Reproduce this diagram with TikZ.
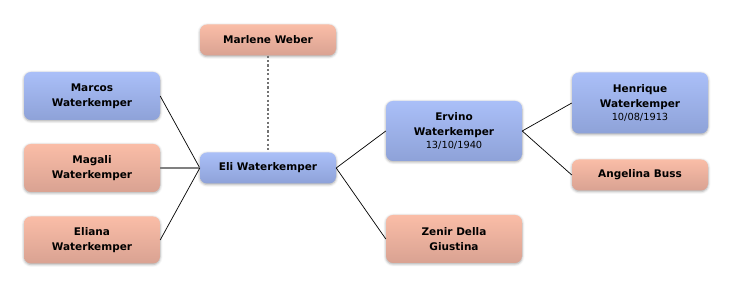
\documentclass[tikz,border=0pt]{standalone}
\usepackage{fontspec}
\setmainfont{DejaVu Sans}
\usetikzlibrary{shadows.blur}
\definecolor{bluetop}{HTML}{AABFF8}
\definecolor{bluebot}{HTML}{8EA2D8}
\definecolor{saltop}{HTML}{FABDA7}
\definecolor{salbot}{HTML}{D9A292}
\tikzset{
  person/.style={rounded corners=7pt, minimum width=136pt, inner sep=0pt, align=center,
    font=\bfseries\fontsize{10.5}{15}\selectfont,
    blur shadow={shadow xshift=0pt, shadow yshift=-1pt, shadow blur radius=2.5pt, shadow opacity=35}},
  male/.style={person, top color=bluetop, bottom color=bluebot},
  female/.style={person, top color=saltop, bottom color=salbot},
  link/.style={draw=black, line width=0.7pt},
  wed/.style={draw=black!50, line width=1.8pt},
  spouse/.style={draw=black!55, line width=1.6pt, dash pattern=on 2.2pt off 2.2pt}
}
\newcommand{\dt}[1]{{\mdseries\fontsize{9.8}{12}\selectfont #1}}
\begin{document}
\begin{tikzpicture}[x=1pt,y=1pt]
\useasboundingbox (0,0) rectangle (732,288);
\node[female, minimum height=31pt] (marlene) at (268,248) {Marlene Weber};
\node[male, minimum height=48pt] (marcos) at (92,192) {Marcos\\Waterkemper};
\node[female, minimum height=48pt] (magali) at (92,120) {Magali\\Waterkemper};
\node[female, minimum height=47pt] (eliana) at (92,48) {Eliana\\Waterkemper};
\node[male, minimum height=31pt] (eli) at (268,120) {Eli Waterkemper};
\node[male, minimum height=60pt] (ervino) at (454,157) {Ervino\\Waterkemper\\[-2pt]\dt{13/10/1940}};
\node[male, minimum height=61pt] (henrique) at (640,185) {Henrique\\Waterkemper\\[-2pt]\dt{10/08/1913}};
\node[female, minimum height=31pt] (angelina) at (640,113) {Angelina Buss};
\node[female, minimum height=48pt] (zenir) at (454,49) {Zenir Della\\Giustina};
\draw[spouse] (marlene.south) -- (eli.north);
\draw[link] (marcos.east) -- (eli.west);
\draw[wed] (magali.east) -- (eli.west);
\draw[link] (eliana.east) -- (eli.west);
\draw[link] (eli.east) -- (ervino.west);
\draw[link] (eli.east) -- (zenir.west);
\draw[link] (ervino.east) -- (henrique.west);
\draw[link] (ervino.east) -- (angelina.west);
\end{tikzpicture}
\end{document}
